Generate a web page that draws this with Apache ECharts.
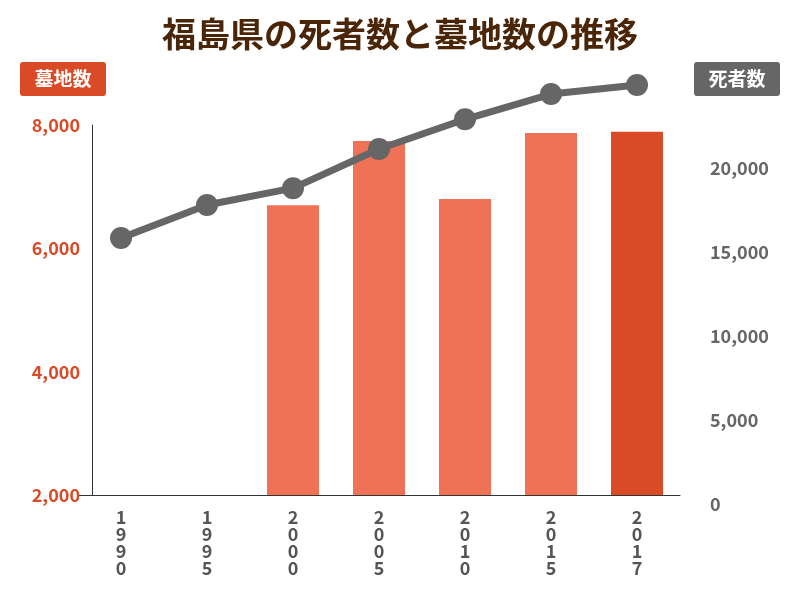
<!DOCTYPE html><html><head><meta charset="utf-8"><script src="https://cdn.jsdelivr.net/npm/echarts@6/dist/echarts.min.js"></script></head><body style="margin:0"><div id="c" style="width:800px;height:600px"></div><script>
const years=['1990','1995','2000','2005','2010','2015','2017'];
const graves=[null,null,6700,7740,6800,7870,7890];
const deaths=[15830,17800,18800,21130,22900,24400,24940];
const f='"Noto Sans CJK JP","Noto Sans",sans-serif';
const c=echarts.init(document.getElementById('c'));
c.setOption({animation:false,
title:{text:'福島県の死者数と墓地数の推移',left:'center',top:12,textStyle:{fontFamily:f,fontSize:34,fontWeight:'bold',color:'#4a2508'}},
grid:[{left:78,right:120,top:125,bottom:105},{left:78,right:120,top:84,bottom:96}],
xAxis:[{type:'category',data:years,gridIndex:0,axisTick:{show:false},axisLine:{lineStyle:{color:'#333'}},
axisLabel:{fontFamily:f,fontSize:18,fontWeight:'bold',color:'#555',lineHeight:17,margin:14,formatter:v=>v.split('').join('\n')}},
{type:'category',data:years,gridIndex:1,show:false}],
yAxis:[{type:'value',gridIndex:0,offset:-14,min:2000,max:8000,interval:2000,splitLine:{show:false},axisLine:{show:true,lineStyle:{color:'#333'}},
axisLabel:{fontFamily:f,fontSize:18,fontWeight:'bold',color:'#d94a26',formatter:v=>v.toLocaleString('en-US'),margin:12}},
{type:'value',gridIndex:1,position:'right',min:0,max:25000,interval:5000,splitLine:{show:false},axisLine:{show:false},axisTick:{show:false},
axisLabel:{fontFamily:f,fontSize:18,fontWeight:'bold',color:'#666',formatter:v=>v>20000?'':v.toLocaleString('en-US'),margin:30}}],
graphic:[{type:'group',left:20,top:62,children:[{type:'rect',shape:{width:86,height:34,r:3},style:{fill:'#d94a26'}},{type:'text',x:43,y:17,style:{text:'墓地数',fill:'#fff',font:'bold 19px '+f,align:'center',verticalAlign:'middle'}}]},
{type:'group',left:694,top:62,children:[{type:'rect',shape:{width:86,height:34,r:3},style:{fill:'#666'}},{type:'text',x:43,y:17,style:{text:'死者数',fill:'#fff',font:'bold 19px '+f,align:'center',verticalAlign:'middle'}}]}],
series:[{type:'bar',xAxisIndex:0,yAxisIndex:0,barWidth:52,data:graves.map((v,i)=>({value:v,itemStyle:{color:i===6?'#d94a26':'#f07256'}}))},
{type:'line',xAxisIndex:1,yAxisIndex:1,data:deaths,symbol:'circle',symbolSize:22,lineStyle:{color:'#666',width:7},itemStyle:{color:'#666'}}]});
</script></body></html>
